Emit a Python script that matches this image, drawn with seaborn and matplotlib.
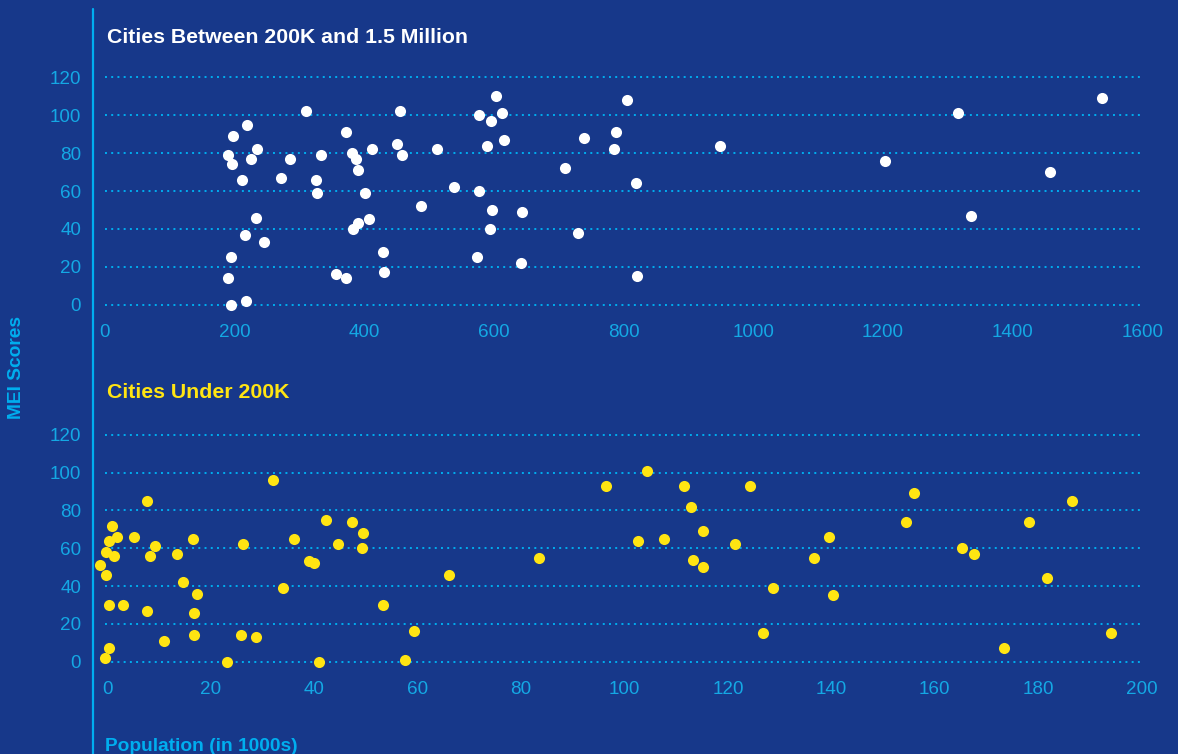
import matplotlib
matplotlib.use("Agg")
import matplotlib.pyplot as plt
import seaborn as sns
import pandas as pd
from matplotlib.lines import Line2D

# ---------------- data ----------------
# Cities between 200K and 1.5 million (population in 1000s, MEI score)
large_pop = [310, 455, 219, 198, 372, 235, 190, 226, 197, 285, 334, 381, 388, 390,
             412, 451, 459, 513, 212, 272, 326, 327, 401, 539, 488, 233, 407, 391,
             383, 216, 246, 194, 429, 190, 357, 372, 431, 194, 218,
             604, 577, 613, 595, 616, 589, 805, 739, 788, 785, 948, 710, 819, 577,
             597, 644, 594, 730, 574, 642, 820,
             1203, 1316, 1538, 1458, 1335]
large_mei = [102, 102, 95, 89, 91, 82, 79, 77, 74, 77, 79, 80, 77, 71,
             82, 85, 79, 82, 66, 67, 66, 59, 59, 62, 52, 46, 45, 43,
             40, 37, 33, 25, 28, 14, 16, 14, 17, 0, 2,
             110, 100, 101, 97, 87, 84, 108, 88, 91, 82, 84, 72, 64, 60,
             50, 49, 40, 38, 25, 22, 15,
             76, 101, 109, 70, 47]

# Cities under 200K
small_pop = [0.9, 1.8, 0.35, -0.35, 1.3, -1.5, -0.35, 0.3, 3.0, 0.3, -0.55, 5.1, 7.6,
             9.1, 8.2, 7.6, 11.0, 13.4, 14.5, 16.5, 17.3, 16.7, 16.7, 23.1, 25.8,
             26.2, 28.8, 32.1, 34.0, 36.1, 39.0, 40.0, 41.0, 42.3, 44.5, 47.2, 49.4,
             49.2, 53.3, 57.5, 59.2, 66.1, 83.4, 96.4, 104.4, 102.6, 107.7, 111.5,
             112.9, 115.2, 113.3, 115.2, 121.4, 124.3, 128.7, 126.7, 136.7, 139.5,
             140.3, 154.5, 156.0, 165.3, 167.7, 173.5, 178.3, 181.7, 186.6, 194.1]
small_mei = [72, 66, 64, 58, 56, 51, 46, 30, 30, 7, 2, 66, 85,
             61, 56, 27, 11, 57, 42, 65, 36, 26, 14, 0, 14,
             62, 13, 96, 39, 65, 53, 52, 0, 75, 62, 74, 68,
             60, 30, 1, 16, 46, 55, 93, 101, 64, 65, 93,
             82, 69, 54, 50, 62, 93, 39, 15, 55, 66,
             35, 74, 89, 60, 57, 7, 74, 44, 85, 15]

y_ticks = [0, 20, 40, 60, 80, 100, 120]
top_x_ticks = [0, 200, 400, 600, 800, 1000, 1200, 1400, 1600]
bottom_x_ticks = [0, 20, 40, 60, 80, 100, 120, 140, 160, 180, 200]

titles = ["Cities Between 200K and 1.5 Million", "Cities Under 200K"]
x_label = "Population (in 1000s)"
y_label = "MEI Scores"

# ---------------- style ----------------
BG = "#17388A"
CYAN = "#00AEEF"
TICK = "#14A8E4"
YELLOW = "#FFE512"
WHITE = "#FFFFFF"

sns.set_theme(style="white")
plt.rcParams["font.family"] = ["Liberation Sans", "DejaVu Sans"]

W, H = 1178, 754
fig = plt.figure(figsize=(W / 100, H / 100), dpi=100, facecolor=BG)

left = 104.7 / W
width = (1142.5 - 104.7) / W
ax_top = fig.add_axes([left, 1 - 304.7 / H, width, (304.7 - 77.3) / H])
ax_bot = fig.add_axes([left, 1 - 661.7 / H, width, (661.7 - 434.7) / H])

df_large = pd.DataFrame({"pop": large_pop, "mei": large_mei})
df_small = pd.DataFrame({"pop": small_pop, "mei": small_mei})

for ax, df, color, xlim, xticks in [
    (ax_top, df_large, WHITE, (0, 1600), top_x_ticks),
    (ax_bot, df_small, YELLOW, (-0.55, 200.2), bottom_x_ticks),
]:
    ax.set_facecolor(BG)
    sns.scatterplot(data=df, x="pop", y="mei", ax=ax, color=color, s=64,
                    linewidth=0, clip_on=False, zorder=3)
    ax.set_xlim(*xlim)
    ax.set_ylim(0, 120)
    ax.set_xticks(xticks)
    ax.set_yticks(y_ticks)
    ax.set_xticklabels([str(t) for t in xticks])
    ax.set_yticklabels([str(t) for t in y_ticks])
    ax.tick_params(axis="both", length=0, labelsize=13.6, labelcolor=TICK)
    ax.tick_params(axis="y", pad=17)
    ax.tick_params(axis="x", pad=14)
    ax.set_xlabel("")
    ax.set_ylabel("")
    for sp in ax.spines.values():
        sp.set_visible(False)
    ax.grid(False)
    for yv in y_ticks:
        ax.axhline(yv, color=CYAN, linewidth=1.4, linestyle=(0, (1, 2.2)),
                   zorder=1, clip_on=False)

# titles and labels
fig.text(107.3 / W, 1 - 42.7 / H, titles[0], color=WHITE, fontsize=15.3,
         fontweight="bold", ha="left", va="baseline")
fig.text(107.3 / W, 1 - 397.7 / H, titles[1], color=YELLOW, fontsize=15.3,
         fontweight="bold", ha="left", va="baseline")
fig.text(105 / W, 1 - 751 / H, x_label, color=CYAN, fontsize=13.8,
         fontweight="bold", ha="left", va="baseline")
fig.text(17 / W, 1 - 368 / H, y_label, color=CYAN, fontsize=13.8,
         fontweight="bold", ha="center", va="center", rotation=90)

# vertical accent line
fig.add_artist(Line2D([93 / W, 93 / W], [0, 1 - 9.3 / H], color=CYAN,
                      linewidth=1.6, transform=fig.transFigure))

fig.savefig("out.png", dpi=100, facecolor=BG)
